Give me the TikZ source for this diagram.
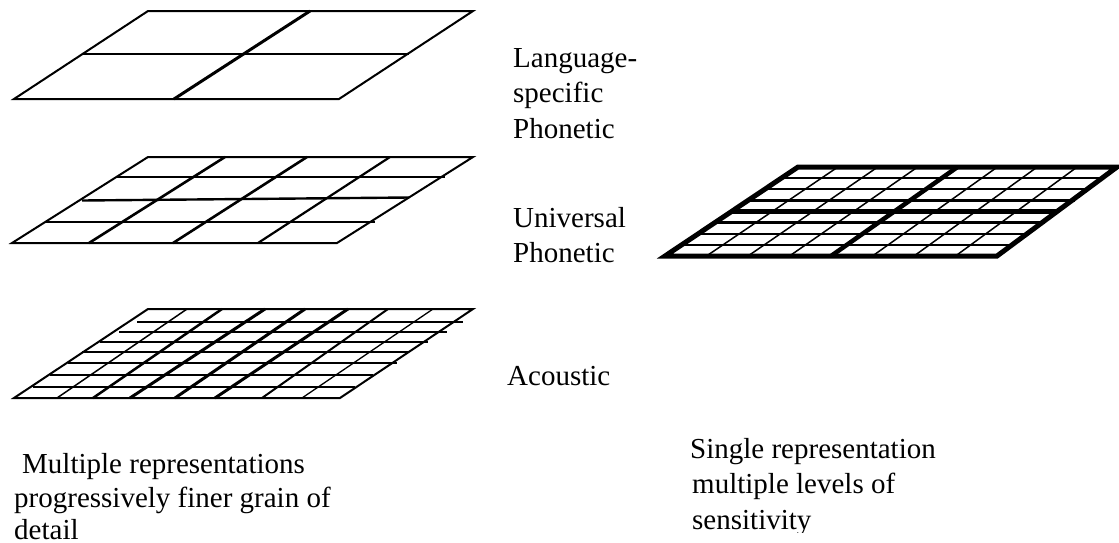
\documentclass[tikz,border=0pt]{standalone}
\usepackage{fontspec}
\setmainfont{Liberation Serif}
\begin{document}
\begin{tikzpicture}[x=1pt,y=-1pt,
  edge/.style={line width=2pt},
  rowline/.style={line width=2.4pt},
  colline/.style={line width=2.6pt},
  label/.style={anchor=base west,inner sep=0pt,font=\fontsize{29}{34}\selectfont}]
\useasboundingbox (0,0) rectangle (1119,542);

% --- coarse sheet: 2 x 2 cells
\draw[edge] (14,99) -- (339,99) -- (473,11) -- (148,11) -- cycle;
\draw[rowline] (82,54) -- (409,54);
\draw[line width=3pt] (174,99) -- (310,11);

% --- middle sheet: 4 x 4 cells
\draw[edge] (12,243) -- (337,243) -- (473,157) -- (148,157) -- cycle;
\draw[rowline] (45,222) -- (375,222);
\draw[rowline] (82,200.5) -- (409,197.5);
\draw[rowline] (116,177) -- (445,177);
\draw[colline] (89,243) -- (225,157);
\draw[colline] (173,243) -- (307,157);
\draw[line width=2.2pt] (258,243) -- (390,157);

% --- fine sheet: 8 x 8 cells
\draw[edge] (14,398) -- (340,398) -- (473,309) -- (148,309) -- cycle;
\draw[rowline] (137,322) -- (463,322);
\draw[rowline] (119,332) -- (447,332);
\draw[rowline] (100,342) -- (428,342);
\draw[rowline] (82,352) -- (408,352);
\draw[rowline] (68,363) -- (397,363);
\draw[rowline] (50,375) -- (373,375);
\draw[rowline] (33,387) -- (355,387);
\draw[line width=1.5pt] (57,398) -- (187,309);
\draw[line width=2.5pt] (93,398) -- (222,309);
\draw[line width=3pt] (130,398) -- (265,309);
\draw[line width=3pt] (175,398) -- (305,309);
\draw[line width=3pt] (215,398) -- (348,309);
\draw[line width=2pt] (262,398) -- (388,309);
\draw[line width=1.3pt] (302,398) -- (433,309);

% --- single sheet with nested levels
\foreach \j in {1,2,3,5,6,7}
  \draw[rowline] ({665+16.625*\j},{256-11.125*\j}) -- ({1000+15*\j},{256-11.125*\j});
\foreach \i in {1,2,3,5,6,7}
  \draw[line width=1.5pt] ({665+41.5*\i},256) -- ({798+39.875*\i},167);
\draw[line width=4.5pt] ({665+16.625*4},{256-11.125*4}) -- ({997+15*4},{256-11.125*4});
\draw[line width=4.5pt] ({665+41.5*4},256) -- ({798+39.875*4},167);
\draw[line width=5pt] (665,256) -- (997,256) -- (1117,167) -- (798,167) -- cycle;

% --- labels
\node[label] (lang1) at (513,67) {Language-};
\node[label] (lang2) at (513,102) {specific};
\node[label] (lang3) at (513,138) {Phonetic};
\node[label] (univ1) at (513,227) {Universal};
\node[label] (univ2) at (513,262) {Phonetic};
\node[label] (acou) at (507,385) {Acoustic};

\node[label] (multi1) at (22,473) {Multiple representations};
\node[label] (multi2) at (14,507) {progressively finer grain of};
\node[label] (multi3) at (14,539) {detail};

\node[label] (single1) at (690,458) {Single representation};
\node[label] (single2) at (692,493) {multiple levels of};
\begin{scope}
  \clip (600,400) rectangle (1000,532);
  \node[label] (single3) at (692,529) {sensitivity};
\end{scope}
\end{tikzpicture}
\end{document}
